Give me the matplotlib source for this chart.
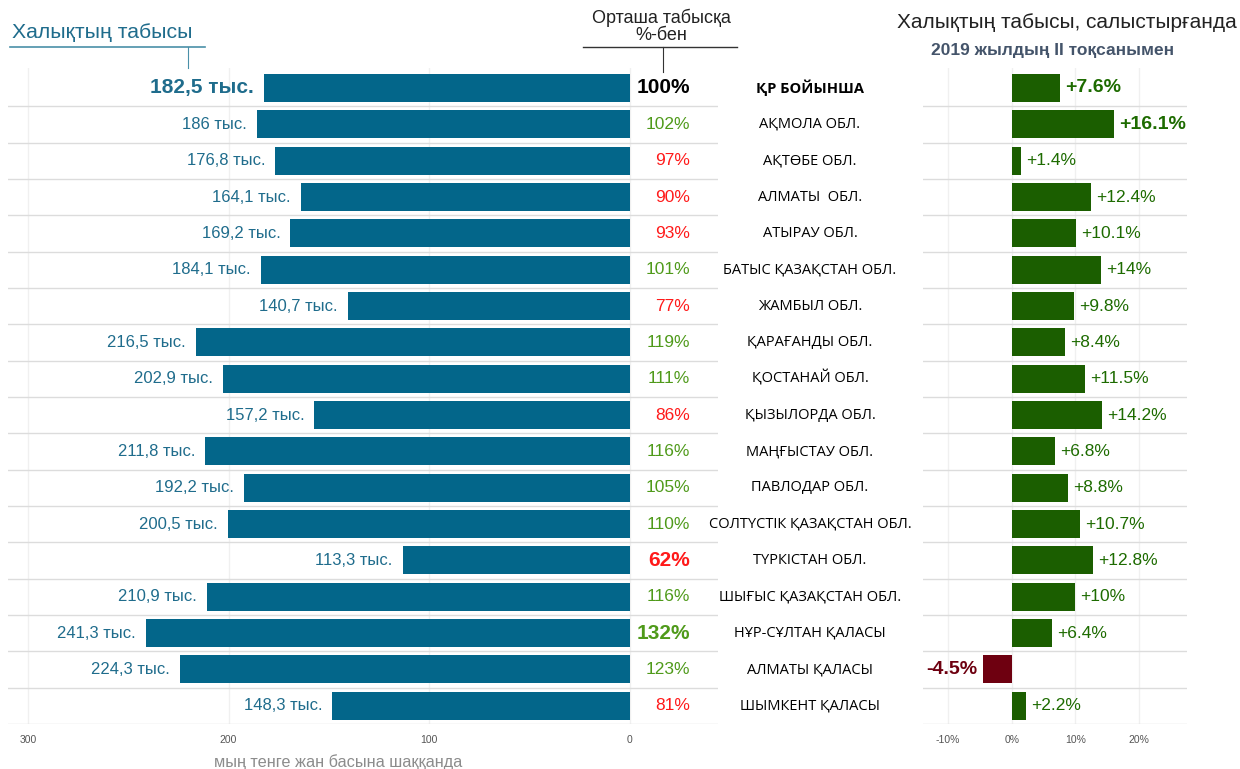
import numpy as np
import matplotlib.pyplot as plt

plt.rcParams['font.family'] = ['Liberation Sans', 'DejaVu Sans']

# data
regions = ['ҚР БОЙЫНША', 'АҚМОЛА ОБЛ.', 'АҚТӨБЕ ОБЛ.', 'АЛМАТЫ  ОБЛ.', 'АТЫРАУ ОБЛ.',
           'БАТЫС ҚАЗАҚСТАН ОБЛ.', 'ЖАМБЫЛ ОБЛ.', 'ҚАРАҒАНДЫ ОБЛ.', 'ҚОСТАНАЙ ОБЛ.',
           'ҚЫЗЫЛОРДА ОБЛ.', 'МАҢҒЫСТАУ ОБЛ.', 'ПАВЛОДАР ОБЛ.', 'СОЛТҮСТІК ҚАЗАҚСТАН ОБЛ.',
           'ТҮРКІСТАН ОБЛ.', 'ШЫҒЫС ҚАЗАҚСТАН ОБЛ.', 'НҰР-СҰЛТАН ҚАЛАСЫ',
           'АЛМАТЫ ҚАЛАСЫ', 'ШЫМКЕНТ ҚАЛАСЫ']
income = [182.5, 186, 176.8, 164.1, 169.2, 184.1, 140.7, 216.5, 202.9, 157.2,
          211.8, 192.2, 200.5, 113.3, 210.9, 241.3, 224.3, 148.3]
pct_of_avg = [100, 102, 97, 90, 93, 101, 77, 119, 111, 86, 116, 105, 110, 62,
              116, 132, 123, 81]
growth = [7.6, 16.1, 1.4, 12.4, 10.1, 14, 9.8, 8.4, 11.5, 14.2, 6.8, 8.8, 10.7,
          12.8, 10, 6.4, -4.5, 2.2]
left_ticks = [300, 200, 100, 0]
right_ticks = [-10, 0, 10, 20]

bar_blue = '#03668a'
txt_blue = '#1f6c8c'
bar_green = '#1b5e00'
txt_green = '#1d6b00'
pct_green = '#4f9a1a'
neg_red = '#6e0010'

def fmt_income(v):
    s = f"{v:g}".replace('.', ',')
    return s + " тыс."

def fmt_growth(v):
    s = f"{v:g}%"
    return ("+" + s) if v > 0 else s

n = len(regions)
y = np.arange(n)

fig = plt.figure(figsize=(12.4, 7.69), dpi=100)
H = 769
W = 1240
ax_bottom = 1 - 724 / H
ax_height = (724 - 68) / H

# left panel: income
ax1 = fig.add_axes([8 / W, ax_bottom, (718 - 8) / W, ax_height])
ax1.barh(y, income, height=0.77, color=bar_blue, zorder=3)
ax1.set_xlim(310, -44)
ax1.set_ylim(17.5, -0.55)
for yy in np.arange(n) + 0.5:
    ax1.axhline(yy, color='#dcdcdc', lw=1, zorder=1)
for xt in left_ticks:
    ax1.plot([xt, xt], [-0.55, 17.5], color='#f0f0f0', lw=1, zorder=0)
ax1.set_xticks(left_ticks)
ax1.set_xticklabels([str(t) for t in left_ticks], fontsize=7.5, color='#555555')
ax1.tick_params(axis='x', length=0, pad=8)
ax1.set_yticks([])
for s in ax1.spines.values():
    s.set_visible(False)

for i, v in enumerate(income):
    bold = i == 0
    ax1.text(v + 5, i, fmt_income(v), ha='right', va='center',
             fontsize=15 if bold else 12, fontweight='bold' if bold else 'normal',
             color=txt_blue)
    p = pct_of_avg[i]
    if i == 0:
        col = 'black'
    elif p >= 100:
        col = pct_green
    else:
        col = '#ff1a1a'
    big = i in (0, 13, 15)
    ax1.text(-30, i, f"{p}%", ha='right', va='center',
             fontsize=15 if big else 12.5, fontweight='bold' if big else 'normal',
             color=col)

fig.text(338 / W, 1 - 762 / H, 'мың тенге жан басына шаққанда', ha='center', va='center',
         fontsize=11.7, color='#8c8c8c')

# region names in the middle
for i, name in enumerate(regions):
    yf = 1 - (88 + 36.35 * i) / H
    fig.text(810 / W, yf, name, ha='center', va='center', fontsize=10.5,
             family=['Open Sans', 'DejaVu Sans'],
             fontweight='bold' if i == 0 else 'normal', color='black')

# right panel: growth
ax2 = fig.add_axes([923 / W, ax_bottom, (1187 - 923) / W, ax_height])
colors = [bar_green if g >= 0 else neg_red for g in growth]
ax2.barh(y, growth, height=0.77, color=colors, zorder=3)
ax2.set_xlim(-13.9, 27.5)
ax2.set_ylim(17.5, -0.55)
for yy in np.arange(n) + 0.5:
    ax2.axhline(yy, color='#dcdcdc', lw=1, zorder=1)
for xt in right_ticks:
    ax2.plot([xt, xt], [-0.55, 17.5], color='#f0f0f0', lw=1, zorder=0)
ax2.set_xticks(right_ticks)
ax2.set_xticklabels([f"{t}%" for t in right_ticks], fontsize=7.5, color='#555555')
ax2.tick_params(axis='x', length=0, pad=8)
ax2.set_yticks([])
for s in ax2.spines.values():
    s.set_visible(False)

for i, g in enumerate(growth):
    bold = i in (0, 1, 16)
    if g >= 0:
        ax2.text(g + 0.8, i, fmt_growth(g), ha='left', va='center',
                 fontsize=14 if bold else 12.5, fontweight='bold' if bold else 'normal',
                 color=txt_green)
    else:
        ax2.text(g - 0.9, i, fmt_growth(g), ha='right', va='center',
                 fontsize=14, fontweight='bold', color=neg_red)

# headers
fig.text(12 / W, 1 - 32 / H, 'Халықтың табысы', ha='left', va='center',
         fontsize=15.3, color=txt_blue)
fig.add_artist(plt.Line2D([10 / W, 205 / W], [1 - 47 / H, 1 - 47 / H], color='#4a90a8', lw=1.2))
fig.add_artist(plt.Line2D([188 / W, 188 / W], [1 - 47 / H, 1 - 68 / H], color='#4a90a8', lw=0.8))

fig.text(661 / W, 1 - 18 / H, 'Орташа табысқа', ha='center', va='center',
         fontsize=13, color='#222222')
fig.text(661 / W, 1 - 36 / H, '%-бен', ha='center', va='center',
         fontsize=13, color='#222222')
fig.add_artist(plt.Line2D([583 / W, 737 / W], [1 - 47 / H, 1 - 47 / H], color='#333333', lw=1))
fig.add_artist(plt.Line2D([663 / W, 663 / W], [1 - 47 / H, 1 - 72 / H], color='#333333', lw=0.8))

fig.text(1237 / W, 1 - 22 / H, 'Халықтың табысы, салыстырғанда', ha='right', va='center',
         fontsize=15, color='#222222')
fig.text(1053 / W, 1 - 51 / H, '2019 жылдың II тоқсанымен', ha='center', va='center',
         fontsize=12.5, fontweight='bold', color='#44546a')

fig.savefig('out.png', dpi=100)
